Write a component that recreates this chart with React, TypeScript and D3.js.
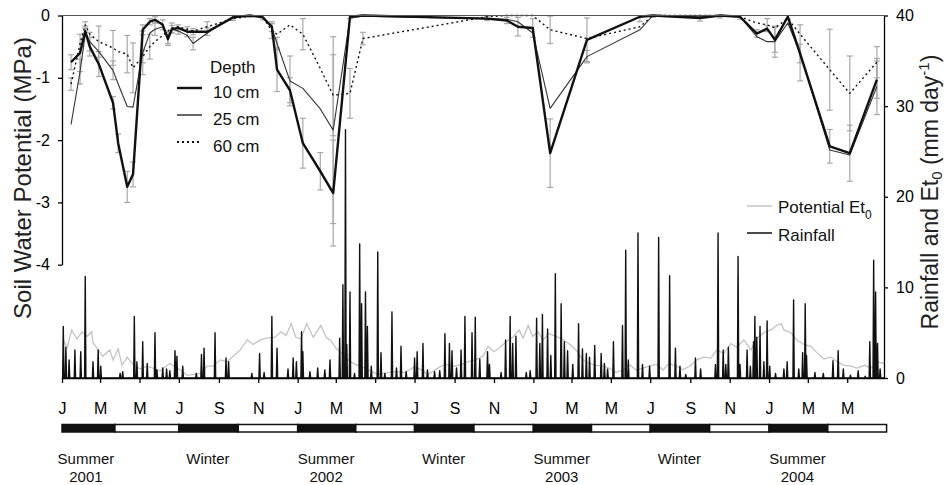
import React, { useEffect, useRef } from 'react';
import * as d3 from 'd3';

// day numbers are counted from 1 Jan 2001
const START = '2001-01-01';
const END = '2004-06-27';

// soil water potential (MPa) at three depths, with standard errors
const soilDays = [14, 28, 36, 43, 57, 79, 87, 101, 110, 125, 136, 144, 156, 164, 170, 180, 194, 203, 225, 265, 291, 311, 325, 333, 353, 373, 400, 420, 446, 466, 658, 689, 706, 729, 756, 813, 895, 915, 988, 1019, 1050, 1076, 1092, 1104, 1124, 1143, 1189, 1220, 1262];
const soil10 = [-0.75, -0.6, -0.25, -0.5, -0.78, -1.4, -2.05, -2.75, -2.55, -0.23, -0.1, -0.07, -0.15, -0.38, -0.22, -0.2, -0.26, -0.26, -0.26, -0.03, 0, -0.03, -0.18, -0.87, -1.2, -2.05, -2.5, -2.85, -0.02, 0, -0.05, -0.08, -0.18, -0.2, -2.21, -0.39, -0.02, 0, -0.04, 0, -0.02, -0.29, -0.21, -0.39, -0.02, -0.61, -2.1, -2.21, -1.03];
const soil25 = [-1.75, -0.9, -0.3, -0.42, -0.58, -0.88, -1.1, -1.46, -1.47, -0.6, -0.28, -0.22, -0.18, -0.35, -0.22, -0.25, -0.32, -0.45, -0.28, -0.02, 0, -0.02, -0.2, -0.45, -1.05, -1.17, -1.5, -1.84, -0.04, -0.01, -0.05, -0.06, -0.1, -0.28, -1.49, -0.66, -0.23, 0, -0.02, 0, -0.02, -0.34, -0.42, -0.42, -0.12, -0.6, -2.16, -2.24, -1.14];
const soil60 = [-1.1, -0.45, -0.15, -0.3, -0.42, -0.52, -0.58, -0.62, -0.84, -0.66, -0.5, -0.42, -0.32, -0.25, -0.2, -0.18, -0.22, -0.25, -0.18, -0.05, -0.01, -0.02, -0.25, -0.3, -0.15, -0.3, -0.85, -1.28, -1.25, -0.37, -0.02, 0, 0, 0, -0.23, -0.37, -0.18, 0, 0, 0, -0.02, -0.12, -0.15, -0.2, -0.05, -0.3, -0.87, -1.25, -0.75];
const err10 = [0.12, 0.3, 0.08, 0.15, 0.2, 0.1, 0.15, 0.25, 0.2, 0.08, 0.05, 0.05, 0.08, 0.1, 0.06, 0.05, 0.08, 0.05, 0.06, 0.05, 0.03, 0.04, 0.08, 0.35, 0.2, 0.4, 0.3, 0.85, 0.03, 0, 0.03, 0.05, 0.15, 0.15, 0.55, 0.35, 0.08, 0.03, 0.05, 0.04, 0.04, 0.06, 0.05, 0.2, 0.04, 0.15, 0.27, 0.45, 0.3];
const err25 = [0, 0.2, 0, 0.15, 0, 0.15, 0, 0, 0, 0.35, 0, 0.1, 0, 0.1, 0, 0.05, 0, 0.1, 0, 0, 0, 0, 0, 0.1, 0.4, 0, 0, 1.5, 0, 0, 0, 0, 0, 0, 0, 0.1, 0, 0, 0, 0, 0, 0, 0, 0.25, 0, 0.45, 0, 0, 0.45];
const err60 = [0.1, 0, 0.05, 0, 0.25, 0.28, 0, 0.3, 0.4, 0.1, 0.2, 0, 0, 0, 0.08, 0, 0, 0, 0.08, 0, 0, 0, 0.12, 0, 0, 0.25, 0, 0.65, 0.4, 0.1, 0.05, 0, 0, 0, 0.22, 0, 0, 0, 0, 0, 0, 0, 0.1, 0, 0, 0, 0.65, 0.6, 0.25];

// daily rainfall events (mm), all other days dry
const rainDays = [2, 6, 11, 20, 29, 36, 48, 56, 60, 90, 94, 112, 116, 125, 132, 144, 147, 156, 162, 167, 175, 178, 187, 208, 216, 220, 237, 254, 258, 294, 306, 313, 325, 333, 350, 358, 363, 371, 373, 384, 396, 407, 415, 430, 435, 439, 441, 446, 453, 461, 464, 470, 473, 479, 489, 494, 500, 511, 518, 525, 533, 546, 550, 559, 566, 577, 585, 593, 600, 604, 611, 618, 624, 635, 640, 647, 659, 662, 680, 687, 694, 698, 703, 719, 725, 735, 740, 744, 752, 757, 764, 773, 778, 783, 791, 800, 806, 812, 817, 825, 835, 840, 845, 854, 868, 873, 877, 892, 899, 910, 924, 941, 950, 957, 966, 981, 989, 1012, 1016, 1024, 1028, 1032, 1047, 1050, 1061, 1066, 1071, 1073, 1076, 1081, 1087, 1092, 1096, 1105, 1118, 1123, 1133, 1141, 1147, 1151, 1153, 1166, 1179, 1194, 1202, 1210, 1221, 1233, 1244, 1251, 1257, 1260, 1263, 1267];
const rainMm = [5.7, 3.4, 2.0, 3.1, 2.9, 11.2, 1.8, 3.1, 1.3, 0.5, 0.7, 6.8, 1.8, 4.0, 1.6, 5.0, 0.9, 1.1, 1.0, 0.8, 3.0, 2.4, 1.3, 0.5, 2.6, 3.3, 5.0, 2.2, 1.8, 0.5, 2.7, 0.6, 6.8, 3.3, 1.0, 2.2, 1.8, 5.1, 2.9, 0.7, 1.1, 0.9, 2.0, 4.4, 10.3, 27.4, 3.7, 9.5, 0.5, 14.8, 8.2, 9.5, 5.7, 1.3, 13.9, 2.8, 0.5, 7.3, 1.1, 3.5, 0.7, 2.2, 2.9, 3.8, 0.9, 0.7, 0.8, 4.9, 3.8, 3.0, 1.1, 3.1, 6.8, 5.0, 6.7, 2.1, 2.9, 1.5, 0.6, 4.2, 6.8, 3.8, 4.6, 0.6, 0.8, 6.6, 3.8, 7.0, 5.4, 2.5, 11.5, 8.2, 4.0, 3.0, 1.5, 6.0, 3.2, 2.7, 2.3, 3.6, 2.7, 1.6, 1.0, 4.0, 5.8, 14.1, 2.0, 16.0, 1.5, 1.3, 15.5, 11.3, 3.3, 1.3, 0.4, 2.2, 1.0, 1.5, 16.0, 3.1, 1.5, 3.4, 13.4, 1.5, 3.1, 1.3, 4.0, 6.8, 4.5, 5.7, 1.8, 6.3, 1.3, 0.5, 1.0, 1.8, 8.6, 1.0, 2.8, 8.2, 2.5, 0.6, 0.5, 1.9, 3.0, 1.0, 0.3, 0.8, 0.2, 4.0, 13.0, 9.5, 3.8, 1.0];

// potential Et0 (mm/day)
const etDays = [2, 8, 15, 23, 31, 39, 46, 48, 56, 63, 74, 79, 87, 93, 101, 110, 121, 132, 152, 167, 183, 194, 214, 225, 234, 245, 256, 265, 276, 287, 296, 307, 317, 330, 339, 347, 355, 362, 370, 379, 389, 401, 409, 417, 424, 432, 443, 454, 463, 474, 489, 505, 516, 531, 547, 556, 567, 578, 587, 598, 609, 618, 629, 640, 652, 660, 669, 677, 688, 698, 708, 714, 722, 729, 737, 745, 754, 765, 776, 785, 796, 807, 816, 827, 838, 847, 858, 869, 878, 889, 900, 909, 920, 931, 940, 951, 962, 974, 983, 994, 1005, 1014, 1025, 1036, 1045, 1056, 1067, 1076, 1087, 1098, 1107, 1114, 1118, 1129, 1138, 1149, 1160, 1169, 1180, 1191, 1200, 1211, 1222, 1231, 1243, 1253, 1262, 1273];
const etMm = [4.2, 3.4, 5.3, 4.3, 5.1, 4.6, 5.1, 3.9, 3.1, 2.4, 3.1, 2.0, 3.2, 1.4, 2.3, 1.5, 1.0, 1.3, 0.8, 1.6, 0.9, 0.3, 0.5, 1.3, 1.3, 2.0, 1.8, 2.4, 3.1, 4.2, 3.7, 4.2, 4.4, 4.5, 5.1, 4.7, 6.0, 4.5, 4.3, 6.0, 4.5, 5.8, 4.5, 4.1, 3.3, 2.8, 2.0, 1.5, 1.3, 0.9, 0.4, 0.6, 0.7, 0.6, 1.3, 0.9, 0.4, 0.9, 1.3, 1.5, 1.3, 1.5, 1.8, 2.0, 2.4, 3.5, 2.9, 3.3, 4.0, 4.5, 5.3, 4.4, 5.8, 4.6, 5.1, 4.2, 4.9, 4.6, 4.2, 3.8, 3.1, 2.0, 1.6, 1.4, 1.3, 1.1, 0.6, 0.9, 1.5, 0.9, 1.1, 1.3, 1.5, 0.9, 1.6, 1.3, 0.9, 1.4, 2.0, 2.3, 2.2, 3.1, 2.7, 3.8, 3.4, 4.2, 3.1, 4.4, 5.0, 5.3, 5.8, 6.0, 5.3, 5.0, 4.2, 3.7, 3.5, 2.8, 2.1, 2.3, 1.8, 1.4, 1.3, 1.1, 1.4, 1.1, 1.8, 1.6];

const monthLabels = ['J', 'M', 'M', 'J', 'S', 'N', 'J', 'M', 'M', 'J', 'S', 'N', 'J', 'M', 'M', 'J', 'S', 'N', 'J', 'M', 'M'];
const leftTicks = [0, -1, -2, -3, -4];
const rightTicks = [0, 10, 20, 30, 40];

const seasonEdges = ['2001-01-01', '2001-03-24', '2001-07-01', '2001-10-01', '2002-01-01', '2002-04-01', '2002-07-01', '2002-10-01', '2003-01-01', '2003-04-01', '2003-07-01', '2003-10-01', '2004-01-01', '2004-04-01', '2004-07-01'];
const seasonNames = ['Summer', 'Winter', 'Summer', 'Winter', 'Summer', 'Winter', 'Summer'];
const seasonYears = ['2001', '', '2002', '', '2003', '', '2004'];
const seasonMid = ['2001-02-07', '2001-08-15', '2002-02-14', '2002-08-15', '2003-02-14', '2003-08-15', '2004-02-14'];

const FONT = '"Liberation Sans", Arial, Helvetica, sans-serif';

const App = () => {
    const svgRef = useRef(null);

    useEffect(() => {
        const svg = d3.select(svgRef.current);
        svg.selectAll('*').remove();

        const parse = d3.timeParse('%Y-%m-%d');
        const t0 = parse(START);
        const dayDate = (d) => d3.timeDay.offset(t0, d);

        const left = 62, right = 884, top = 15.5, bottom = 378;

        const x = d3.scaleTime().domain([t0, parse(END)]).range([left, right]);
        const yL = d3.scaleLinear().domain([-4, 0]).range([264.7, top]);
        const yR = d3.scaleLinear().domain([0, 40]).range([bottom, top]);

        // rainfall and Et0
        const rainByDay = new Map(rainDays.map((d, i) => [d, rainMm[i]]));
        const nDays = d3.timeDay.count(t0, parse(END));
        const rainSeries = d3.range(0, nDays + 1).map(d => ({ d, v: rainByDay.get(d) ?? 0 }));

        const etLine = d3.line()
            .x((d, i) => x(dayDate(etDays[i])))
            .y(d => yR(d));
        svg.append('path')
            .datum(etMm)
            .attr('fill', 'none')
            .attr('stroke', '#c4c4c4')
            .attr('stroke-width', 1.3)
            .attr('d', etLine);

        const rainLine = d3.line()
            .x(d => x(dayDate(d.d)))
            .y(d => yR(d.v));
        svg.append('path')
            .datum(rainSeries)
            .attr('fill', 'none')
            .attr('stroke', '#111')
            .attr('stroke-width', 1.4)
            .attr('stroke-linejoin', 'round')
            .attr('d', rainLine);

        // error bars
        const errG = svg.append('g').attr('stroke', '#a8a8a8').attr('stroke-width', 1.2);
        [[soil10, err10], [soil25, err25], [soil60, err60]].forEach(([vals, errs]) => {
            vals.forEach((v, i) => {
                const e = errs[i];
                if (!e) return;
                const cx = x(dayDate(soilDays[i]));
                const y1 = yL(Math.min(0, v + e));
                const y2 = yL(v - e);
                errG.append('line').attr('x1', cx).attr('x2', cx).attr('y1', y1).attr('y2', y2);
                errG.append('line').attr('x1', cx - 3).attr('x2', cx + 3).attr('y1', y1).attr('y2', y1);
                errG.append('line').attr('x1', cx - 3).attr('x2', cx + 3).attr('y1', y2).attr('y2', y2);
            });
        });

        // soil water potential lines
        const soilLine = d3.line()
            .x((d, i) => x(dayDate(soilDays[i])))
            .y(d => yL(d));
        const styles = [
            { vals: soil60, stroke: '#111', width: 1.4, dash: '2,3' },
            { vals: soil25, stroke: '#333', width: 1.1, dash: null },
            { vals: soil10, stroke: '#111', width: 2.4, dash: null }
        ];
        styles.forEach(s => {
            svg.append('path')
                .datum(s.vals)
                .attr('fill', 'none')
                .attr('stroke', s.stroke)
                .attr('stroke-width', s.width)
                .attr('stroke-dasharray', s.dash)
                .attr('stroke-linejoin', 'round')
                .attr('d', soilLine);
        });

        // frame top
        svg.append('line')
            .attr('x1', left).attr('x2', right)
            .attr('y1', top).attr('y2', top)
            .attr('stroke', '#555').attr('stroke-width', 1.2);

        // axes
        const styleAxis = (g) => {
            g.attr('font-family', FONT).attr('font-size', 16);
            g.selectAll('path, line').attr('stroke', '#000').attr('stroke-width', 1.3);
            g.selectAll('text').attr('fill', '#000');
        };

        svg.append('g')
            .attr('transform', `translate(${left},0)`)
            .call(d3.axisLeft(yL).tickValues(leftTicks).tickSize(4).tickSizeOuter(0).tickPadding(8).tickFormat(d => String(d)))
            .call(styleAxis);

        svg.append('g')
            .attr('transform', `translate(${right},0)`)
            .call(d3.axisRight(yR).tickValues(rightTicks).tickSize(4).tickSizeOuter(0).tickPadding(8).tickFormat(d => String(d)))
            .call(styleAxis);

        const monthTicks = d3.timeMonth.every(2).range(t0, parse('2004-05-02'));
        svg.append('g')
            .attr('transform', `translate(0,${bottom})`)
            .call(d3.axisBottom(x).tickValues(monthTicks).tickSize(5).tickSizeOuter(0).tickPadding(20).tickFormat((d, i) => monthLabels[i]))
            .call(styleAxis)
            .call(g => g.select('.domain').attr('stroke-width', 1.6));

        // axis titles
        svg.append('text')
            .attr('transform', 'translate(31,178) rotate(-90)')
            .attr('text-anchor', 'middle')
            .attr('font-family', FONT)
            .attr('font-size', 24)
            .attr('fill', '#222')
            .text('Soil Water Potential (MPa)');

        const rt = svg.append('text')
            .attr('transform', 'translate(938,192) rotate(-90)')
            .attr('text-anchor', 'middle')
            .attr('font-family', FONT)
            .attr('font-size', 23)
            .attr('fill', '#222');
        rt.append('tspan').text('Rainfall and Et');
        rt.append('tspan').attr('font-size', 15).attr('dy', 4).text('0');
        rt.append('tspan').attr('dy', -4).text(' (mm day');
        rt.append('tspan').attr('font-size', 15).attr('dy', -9).text('-1');
        rt.append('tspan').attr('dy', 9).text(')');

        // depth legend
        const lg = svg.append('g').attr('font-family', FONT).attr('font-size', 17).attr('fill', '#111');
        lg.append('text').attr('x', 210).attr('y', 72.5).text('Depth');
        const depthNames = ['10 cm', '25 cm', '60 cm'];
        const legendRows = [
            { y: 88, style: styles[2] },
            { y: 115, style: { stroke: '#666', width: 2, dash: null } },
            { y: 142, style: styles[0] }
        ];
        legendRows.forEach((r, i) => {
            lg.append('line')
                .attr('x1', 177).attr('x2', 202)
                .attr('y1', r.y).attr('y2', r.y)
                .attr('stroke', r.style.stroke)
                .attr('stroke-width', i === 2 ? 2 : r.style.width)
                .attr('stroke-dasharray', r.style.dash);
            lg.append('text').attr('x', 213).attr('y', r.y + 9.5).text(depthNames[i]);
        });

        // rainfall legend
        const lr = svg.append('g').attr('font-family', FONT).attr('font-size', 17).attr('fill', '#111');
        lr.append('line').attr('x1', 747).attr('x2', 772).attr('y1', 206).attr('y2', 206)
            .attr('stroke', '#c4c4c4').attr('stroke-width', 1.5);
        const pt = lr.append('text').attr('x', 778).attr('y', 212.5);
        pt.append('tspan').text('Potential Et');
        pt.append('tspan').attr('font-size', 12).attr('dy', 6).text('0');
        lr.append('line').attr('x1', 747).attr('x2', 772).attr('y1', 233).attr('y2', 233)
            .attr('stroke', '#111').attr('stroke-width', 1.5);
        lr.append('text').attr('x', 778).attr('y', 240.5).text('Rainfall');

        // season bar
        const edges = seasonEdges.map(parse);
        const sb = svg.append('g');
        d3.range(edges.length - 1).forEach(i => {
            sb.append('rect')
                .attr('x', x(edges[i]))
                .attr('y', 424.5)
                .attr('width', x(edges[i + 1]) - x(edges[i]))
                .attr('height', 7.5)
                .attr('fill', i % 2 === 0 ? '#111' : '#fff')
                .attr('stroke', '#111')
                .attr('stroke-width', 1.5);
        });

        const sl = svg.append('g').attr('font-family', FONT).attr('font-size', 15).attr('fill', '#111').attr('text-anchor', 'middle');
        seasonNames.forEach((name, i) => {
            const cx = x(parse(seasonMid[i]));
            sl.append('text').attr('x', cx).attr('y', 464).text(name);
            if (seasonYears[i]) sl.append('text').attr('x', cx).attr('y', 481.5).text(seasonYears[i]);
        });
    }, []);

    return (
        <svg
            ref={svgRef}
            width={948}
            height={485}
            style={{ position: 'absolute', left: 0, top: 0, background: '#fff' }}
        />
    );
};

export default App;
